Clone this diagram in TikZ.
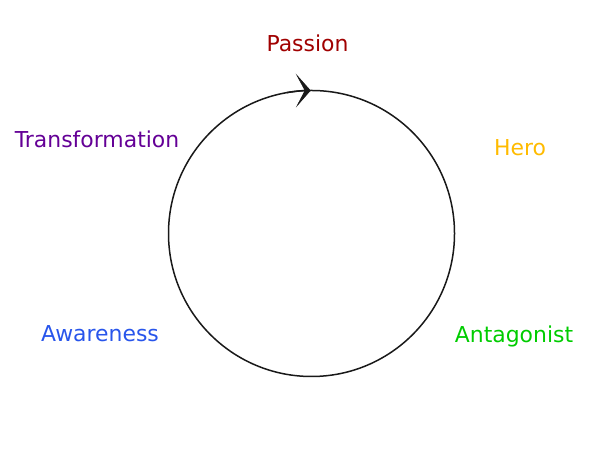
\documentclass[tikz,border=0pt]{standalone}
\usepackage{fontspec}
\setmainfont{DejaVu Sans}
\usetikzlibrary{arrows.meta}
\definecolor{cpassion}{RGB}{160,0,0}
\definecolor{chero}{RGB}{255,187,0}
\definecolor{cantag}{RGB}{0,204,0}
\definecolor{caware}{RGB}{40,85,235}
\definecolor{ctrans}{RGB}{100,0,150}
\tikzset{
  lbl/.style={anchor=base, inner sep=0pt, font=\fontsize{22}{24}\selectfont},
  ring/.style={draw=black!90, line width=1.5bp},
}
\begin{document}
\begin{tikzpicture}[x=1bp,y=1bp]
\useasboundingbox (0,0) rectangle (612,473);
\coordinate (c) at (311.5,239.5);
\node[circle, ring, minimum size=286bp, inner sep=0pt] (circ) at (c) {};
\draw[ring, -{Stealth[length=15bp, width=34bp, inset=9bp, line width=0.6bp]}] (c) ++(100:143) arc[start angle=100, end angle=90.3, radius=143];
\node[lbl, text=cpassion] (passion) at (307.5,421) {Passion};
\node[lbl, text=chero] (hero) at (520,317) {Hero};
\node[lbl, text=cantag] (antag) at (514,130) {Antagonist};
\node[lbl, text=caware] (aware) at (100,131) {Awareness};
\node[lbl, text=ctrans] (trans) at (97,325) {Transformation};
\end{tikzpicture}
\end{document}
